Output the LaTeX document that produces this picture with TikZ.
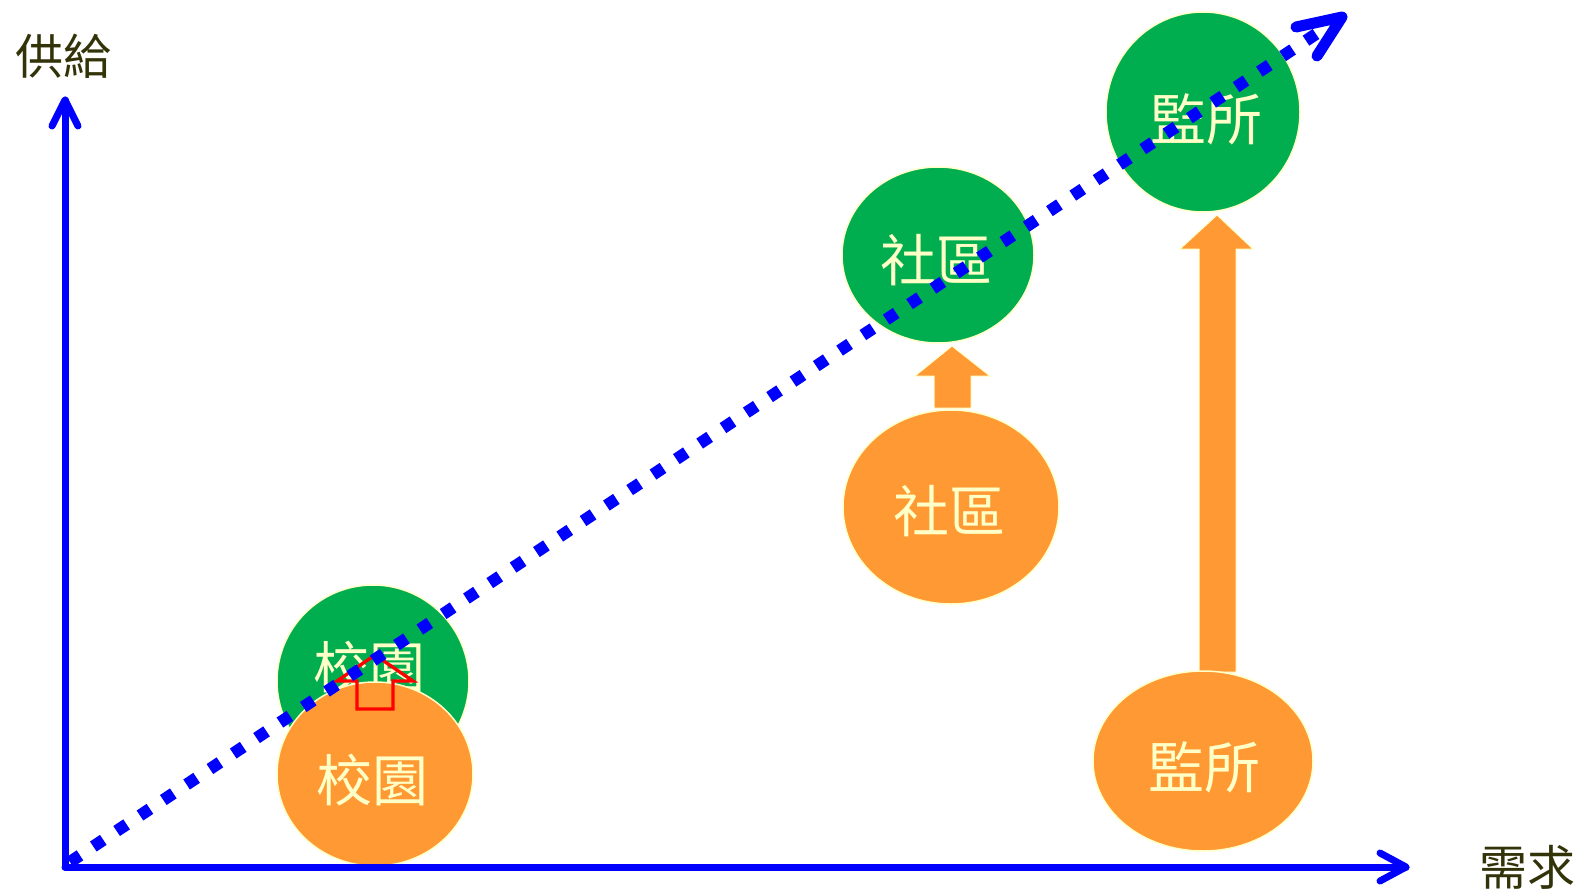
\documentclass[tikz,border=0pt]{standalone}
\usepackage{fontspec}
\newfontfamily\cjk{Noto Sans CJK TC}
\usetikzlibrary{shapes.geometric}
\definecolor{dgreen}{HTML}{00AD4F}
\definecolor{orng}{HTML}{FF9933}
\definecolor{ltyel}{HTML}{FFFFC8}
\definecolor{axtxt}{HTML}{33330A}
\begin{document}
\begin{tikzpicture}[x=1pt,y=-1pt,
  blob/.style={ellipse, draw=ltyel, line width=1.5pt, inner sep=0pt},
  gblob/.style={blob, fill=dgreen},
  oblob/.style={blob, fill=orng},
  lbl/.style={text=ltyel, font=\cjk\fontsize{56}{60}\selectfont, inner sep=0pt},
  axlbl/.style={text=axtxt, font=\cjk\fontsize{48}{52}\selectfont, inner sep=0pt},
  axisline/.style={draw=blue, line width=7pt, line cap=round, line join=round},
  dotline/.style={draw=blue, line width=12pt, dash pattern=on 12pt off 16pt},
  chev/.style={draw=blue, line width=11pt, line cap=round, line join=round},
  blockarrow/.style={fill=orng, draw=ltyel, line width=1pt},
  redarrow/.style={draw=red, line width=3.3pt, line join=miter}]
\useasboundingbox[fill=white] (0,0) rectangle (1580,894);

% 校園
\node[gblob, minimum width=192pt, minimum height=192pt] (gS) at (373,681) {};
\node[lbl] (tgS) at (369,667) {校園};
\node[oblob, minimum width=196pt, minimum height=184pt] (oS) at (375,774) {};
\node[lbl] (toS) at (372,780) {校園};
\draw[redarrow] (357,709) -- (357,681) -- (337,681) -- (375,655) -- (413,681) -- (393,681) -- (393,709) -- cycle;

% 社區
\node[gblob, minimum width=192pt, minimum height=176pt] (gC) at (938,255) {};
\node[lbl] (tgC) at (936,260) {社區};
\node[oblob, minimum width=216pt, minimum height=194pt] (oC) at (951,507) {};
\node[lbl] (toC) at (949,511) {社區};
\draw[blockarrow] (934,408) -- (934,376) -- (915,376) -- (952,346) -- (990,376) -- (971,376) -- (971,408) -- cycle;

% 監所
\node[gblob, minimum width=194pt, minimum height=200pt] (gP) at (1203,112) {};
\node[lbl] (tgP) at (1206,119) {監所};
\draw[blockarrow] (1199,672) -- (1199,249) -- (1180,249) -- (1217,215) -- (1253,249) -- (1236,249) -- (1236,672) -- cycle;
\node[oblob, minimum width=220pt, minimum height=180pt] (oP) at (1203,761) {};
\node[lbl] (toP) at (1204,767) {監所};

% axes
\coordinate (O) at (65,867);
\coordinate (Ytip) at (65,100);
\coordinate (Xtip) at (1406,867);
\draw[axisline] (O) -- (Ytip);
\draw[axisline] (52,126) -- (Ytip) -- (78,126);
\draw[axisline] (O) -- (Xtip);
\draw[axisline] (1380,853) -- (Xtip) -- (1380,881);
\node[axlbl] (ylab) at (64,56) {供給};
\node[axlbl] (xlab) at (1527,867) {需求};

% dotted trend
\coordinate (dS) at (70,862);
\coordinate (dE) at (1322,30);
\coordinate (dT) at (1342,17);
\draw[dotline] (dS) -- (dE);
\draw[chev] (1296,27) -- (dT) -- (1317,56);
\end{tikzpicture}
\end{document}
